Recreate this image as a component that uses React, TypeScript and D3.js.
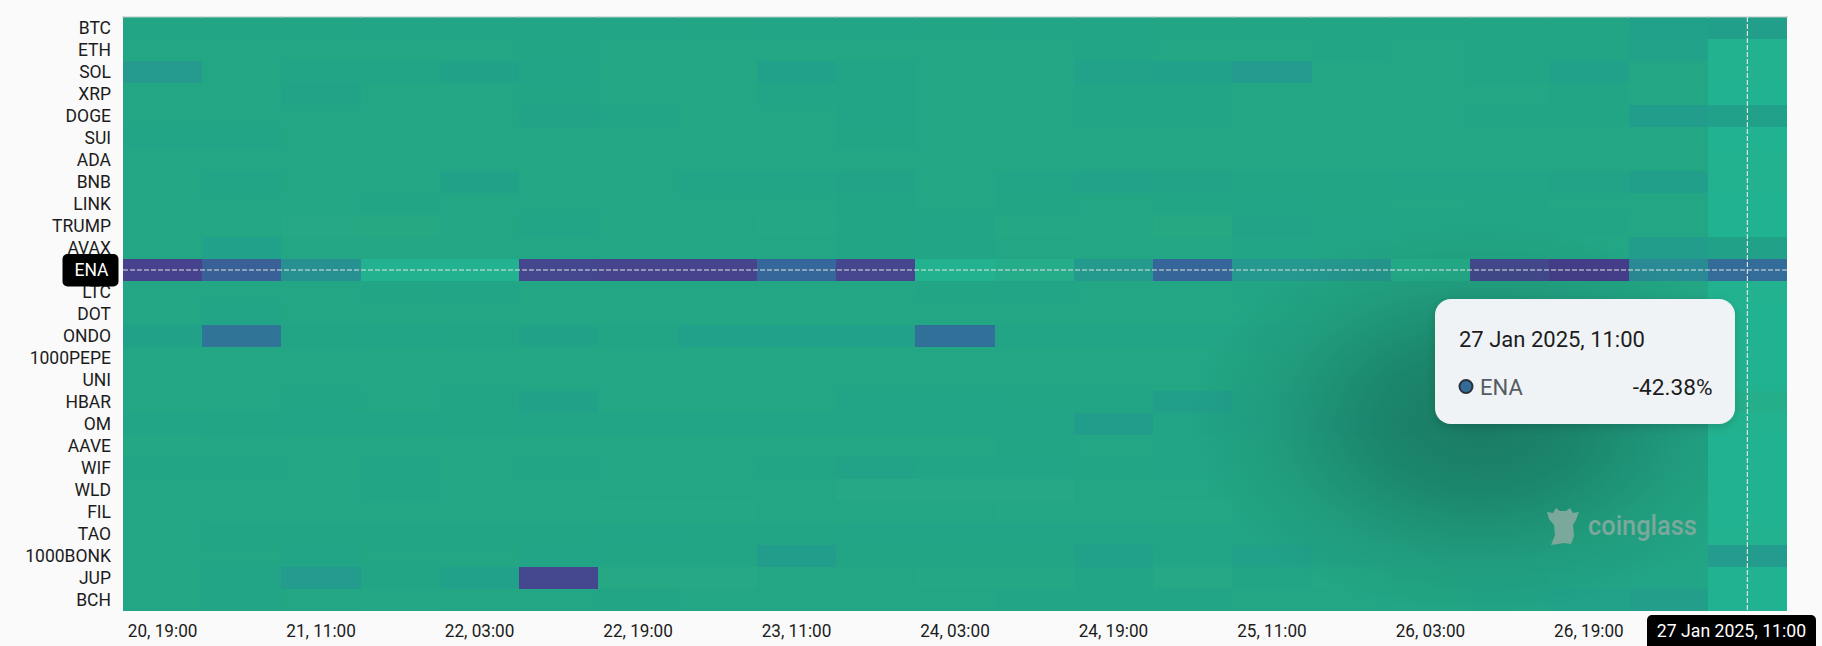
import React from "react";
import * as d3 from "d3";

const symbols = ["BTC","ETH","SOL","XRP","DOGE","SUI","ADA","BNB","LINK","TRUMP","AVAX","ENA","LTC","DOT","ONDO","1000PEPE","UNI","HBAR","OM","AAVE","WIF","WLD","FIL","TAO","1000BONK","JUP","BCH"];
const times = ["20, 19:00","21, 03:00","21, 11:00","21, 19:00","22, 03:00","22, 11:00","22, 19:00","23, 03:00","23, 11:00","23, 19:00","24, 03:00","24, 11:00","24, 19:00","25, 03:00","25, 11:00","25, 19:00","26, 03:00","26, 11:00","26, 19:00","27, 03:00","27 Jan 2025, 11:00"];

const btc = [-1,-1,-1,-3,-2,-3,-2,-1,-2,-3,-1,-3,-3,-1,-1,-1,-1,-1,-1,-7,-9];
const eth = [-0.5,0,0,0,0,-1,0,0,0,0,0,0,-2,0,0,-1,0,-1.5,-1,-6,9];
const sol = [-14,0,-3,-2,-5,-2,0,0,-8,-2,0,0,-6,-7,-13,0,0,-1,-7,0,9];
const xrp = [0,0,-4,0,0,-1,0,0,-2,-3,0,0,-2,-3,0,0,0,0,-1,-0.5,10];
const doge = [0,0,0,0,0,-4,-3,-0.5,0,-2,0,0,-3,-3,0,0,0,-1,-1,-11,-8];
const sui = [-2,-3,0,0,0,0,0,0,0,-1,0,0,0,0,0,0,0,0,0,0,10];
const ada = [0,0,0,0,0,0,0,0,0,0,0,0,0,0,0,0,0,0,0,0,9];
const bnb = [0,-3,0,0,-5,0,0,-3,-3,-4,0,-2.5,-6,-4,-1,-1,-3,-3,-4,-9,9];
const link = [0,0,0,-1,0,0,0,0,0,-1,0,-1,0,-1,-2,-1.5,0,-1,0,0,10];
const trump = [0,0,1.5,2,0,-2,0,0,0.5,-1,-3,1,0,2,-4,-3,-1.5,-1,-1,0,10];
const avax = [0,-7,0,0,0,0,0,0,0,-1,-2,0,0,0,-2,-1,0,0,0,-11,-5];
const ena = [-75,-50,-22,9,9,-68,-72,-72,-45,-70,9,5,-15,-46,-17,-17,6,-65,-82,-28,-42.38];
const ltc = [0,0,0,-1,-2,0,0,-0.5,-0.5,0,-1,-2,0,0,-1,0,0,0,0,-0.5,9];
const dot = [0,-2,0,0,0,0,0,0,0,0,0,0,0,0,-0.5,0,0,0,0,-1,10];
const ondo = [-5,-38,-1,-2,-1,-5,-1,-8,-8,-7,-40,-2,-3,-2,-1,0,0,0,0,-1,10];
const pepe = [0,0,0,0,0,0,0,0,0,0,0,0,0,0,0,0,0,0,0,0,10];
const uni = [0,0,0,0,0,0,0,0,0,0,0,0,0,0,0,0,0,0,0,0,10];
const hbar = [0,0,-1,0,-1,-5,0,0,0,-3,-2,-1,-1,-9,-1,0,0,0,0,-1,6];
const om = [-2,-1,-2,-3,-1,-3,-3,-2,-2,-3,-3,-2,-11,-3,-2,-1,-1,-1,-1,-3,9];
const aave = [1,0,0,0,0,0,0,0,0,0,0,-1,0,-2,0,0,0,0,0,-1,10];
const wif = [-1,-1,0,-2,0,-1,0,0,-1,-4,-2,-2,-1,-2,0,0,0,0,0,-1,10];
const wld = [0,0,0,-1,0,0,0,0,0,1.5,1.5,1.5,0,0,0,0,0,0,0,0,10];
const fil = [0,0,0,0,0,0,1,1,0,0,0,0.5,0,1,0,0,0,0,0,0,10];
const tao = [0,-1,-1,-1,-1,-1,-2,-1,-1,-2,-2,-2,-2,-2,-1,-1,-0.5,-0.5,-0.5,-1,9];
const bonk = [0,0,-2,0,0,-2,-1,-1,-11,-1,-1,-1,-7,-2,-7,-1,-1,-1,-1,-1,-13];
const jup = [0,-3,-13,-1,-8,-68,1.5,1.5,-0.5,0,0.5,0.5,-3,1.5,-1,0.5,0,-1,-2,-2,10];
const bch = [0,-3,0,0.5,0,0,-1,0,0,0,0,-2,-3,-3,0,0,0,-3,-6,-10,10];
const rows = [btc,eth,sol,xrp,doge,sui,ada,bnb,link,trump,avax,ena,ltc,dot,ondo,pepe,uni,hbar,om,aave,wif,wld,fil,tao,bonk,jup,bch];

const colorStops = [-85,-65,-45,-28,-15,-8,0,2,10];
const colorValues = ["#463b8a","#45498f","#35679a","#298a95","#249a8e","#21a08a","#22a684","#26a983","#21b391"];

const hoverSymbol = "ENA";
const hoverTime = "27 Jan 2025, 11:00";
const hoverValue = "-42.38%";

const W = 1822, H = 646;
const left = 123, right = 1787, top = 17, bottom = 611;
const FONT = "Roboto, sans-serif";

function Label({ x, y, sx = 1, ...rest }: any) {
  return <text transform={`translate(${x},${y}) scale(${sx},1)`} dy="0.36em" {...rest} />;
}

export default function App() {
  const x = d3.scaleBand<number>().domain(d3.range(times.length)).range([left, right]);
  const y = d3.scaleBand<string>().domain(symbols).range([top, bottom]);
  const color = d3.scaleLinear<string>().domain(colorStops).range(colorValues).clamp(true);
  const bw = x.bandwidth(), bh = y.bandwidth();
  const lastCol = times.length - 1;
  const cx = x(lastCol)! + bw / 2;
  const cy = y(hoverSymbol)! + bh / 2;
  const renderCol = (c: number) => symbols.map((s, r) => {
    const x0 = Math.round(x(c)!), x1 = Math.round(x(c)! + bw);
    const y0 = Math.round(y(s)!), y1 = Math.round(y(s)! + bh);
    return <rect key={s + c} x={x0} y={y0} width={x1 - x0} height={y1 - y0} fill={color(rows[r][c])} shapeRendering="crispEdges" />;
  });
  return (
    <svg width={W} height={H} viewBox={`0 0 ${W} ${H}`} style={{ position: "fixed", left: 0, top: 0, background: "#fafafa" }}>
      <defs>
        <radialGradient id="sh">
          <stop offset="0%" stopColor="#0c3a30" stopOpacity={0.4} />
          <stop offset="35%" stopColor="#0c3a30" stopOpacity={0.3} />
          <stop offset="70%" stopColor="#0c3a30" stopOpacity={0.1} />
          <stop offset="100%" stopColor="#0c3a30" stopOpacity={0} />
        </radialGradient>
        <clipPath id="plotClip">
          <rect x={left} y={top} width={Math.round(x(lastCol)!) - left} height={bottom - top} />
        </clipPath>
        <filter id="tip" x="-20%" y="-20%" width="140%" height="140%">
          <feDropShadow dx={0} dy={3} stdDeviation={5} floodColor="#000" floodOpacity={0.16} />
        </filter>
      </defs>

      {d3.range(lastCol).map(renderCol)}
      <g clipPath="url(#plotClip)">
        <ellipse cx={1480} cy={420} rx={290} ry={195} fill="url(#sh)" />
      </g>
      {renderCol(lastCol)}

      <line x1={left} x2={right} y1={17} y2={17} stroke="#b5c9c2" strokeWidth={1} />
      {d3.range(times.length + 1).map(i => (
        <line key={i} x1={left + i * bw} x2={left + i * bw} y1={16} y2={18} stroke="#b5c9c2" />
      ))}

      <g fontFamily={FONT} fontSize={17.5} fill="#1c1c1c" textAnchor="end">
        {symbols.map(s => (
          <Label key={s} x={111} y={y(s)! + bh / 2 - 0.5}>{s}</Label>
        ))}
      </g>
      <rect x={62.5} y={254} width={56} height={32.5} rx={5} fill="#000" />
      <Label x={108.5} y={cy - 0.5} fontFamily={FONT} fontSize={17.5} fill="#fff" textAnchor="end">{hoverSymbol}</Label>

      <g fontFamily={FONT} fontSize={17.5} fill="#1c1c1c" textAnchor="middle">
        {times.map((t, i) => i % 2 === 0 && i !== lastCol ? (
          <Label key={t} x={x(i)! + bw / 2} y={631} sx={0.98}>{t}</Label>
        ) : null)}
      </g>

      <line x1={left} x2={right} y1={cy} y2={cy} stroke="#dfe3e1" strokeWidth={1.2} strokeDasharray="5 2" />
      <line x1={cx} x2={cx} y1={top} y2={bottom} stroke="#dfe3e1" strokeWidth={1.2} strokeDasharray="5 2" />

      <rect x={1647} y={615} width={169} height={40} rx={5} fill="#000" />
      <Label x={1731.5} y={631} sx={1.01} fontFamily={FONT} fontSize={17.5} fill="#fff" textAnchor="middle">{hoverTime}</Label>

      <g fill="#7aa99c">
        <path d="M1547 512 L1553 513 L1556 508 L1560 511 L1566 511 L1570 508 L1573 513 L1579 512 L1576 520 L1573 525 L1574 536 L1571 544 L1564 543 L1558 544 L1551 545 L1555 535 L1554 525 L1549 519 Z" />
        <Label x={1588} y={525} sx={0.94} fontFamily={FONT} fontSize={27} fontWeight={500}>coinglass</Label>
      </g>

      <g filter="url(#tip)">
        <rect x={1435} y={299} width={300} height={125} rx={16} fill="#f0f3f6" />
      </g>
      <g fontFamily={FONT} fontSize={22}>
        <Label x={1459} y={339} fill="#1c1c1c">{hoverTime}</Label>
        <circle cx={1466} cy={386.5} r={6.5} fill={color(ena[lastCol])} stroke="#2b3038" strokeWidth={2} />
        <Label x={1480} y={387} fill="#555b63">{hoverSymbol}</Label>
        <Label x={1712.5} y={387} sx={1.03} fill="#1c1c1c" textAnchor="end">{hoverValue}</Label>
      </g>
    </svg>
  );
}
